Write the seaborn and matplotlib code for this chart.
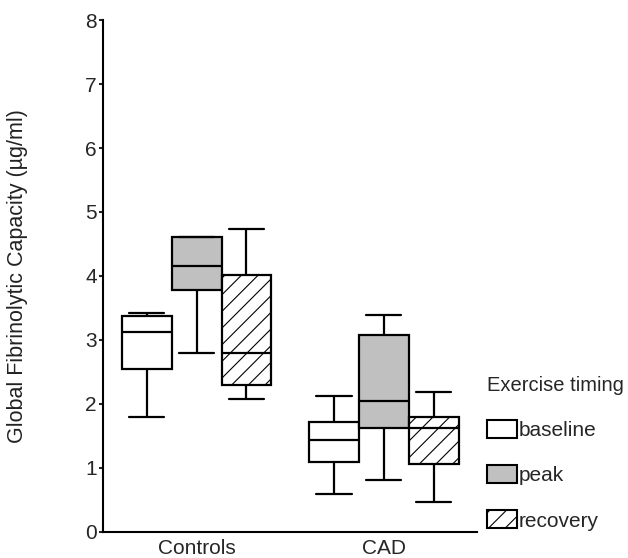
import numpy as np
import pandas as pd
import matplotlib
matplotlib.use("Agg")
import matplotlib.pyplot as plt
from matplotlib.patches import Patch
import seaborn as sns

groups = ["Controls", "CAD"]
timings = ["baseline", "peak", "recovery"]

# five numbers per box: min, q1, median, q3, max
controls_baseline = [1.80, 2.55, 3.13, 3.37, 3.42]
controls_peak = [2.79, 3.78, 4.16, 4.61, 4.61]
controls_recovery = [2.07, 2.29, 2.79, 4.02, 4.73]
cad_baseline = [0.59, 1.09, 1.44, 1.71, 2.13]
cad_peak = [0.81, 1.62, 2.04, 3.08, 3.39]
cad_recovery = [0.46, 1.06, 1.62, 1.80, 2.19]

series = {
    "Controls": [controls_baseline, controls_peak, controls_recovery],
    "CAD": [cad_baseline, cad_peak, cad_recovery],
}
rows = []
for group in groups:
    for timing, vals in zip(timings, series[group]):
        for v in vals:
            rows.append({"group": group, "timing": timing, "value": v})
df = pd.DataFrame(rows)

sns.set_style("ticks")
plt.rcParams["font.family"] = ["Liberation Sans", "DejaVu Sans"]
plt.rcParams["hatch.linewidth"] = 0.8

fig, ax = plt.subplots(figsize=(6.28, 5.58), dpi=100)
fig.subplots_adjust(left=0.164, right=0.760, top=0.964, bottom=0.047)

palette = {"baseline": "white", "peak": "#c0c0c0", "recovery": "white"}
sns.boxplot(data=df, x="group", y="value", hue="timing", order=groups,
            hue_order=timings, palette=palette, saturation=1, whis=(0, 100),
            width=0.8, gap=0, linecolor="black", linewidth=1.6,
            showfliers=False, legend=False, capwidths=0.19, ax=ax)

# hatch the recovery boxes (right-hand box of each group)
for p in ax.patches:
    ext = p.get_path().get_extents()
    cx = (ext.x0 + ext.x1) / 2
    if cx - round(cx) > 0.1:
        p.set_hatch("//")

ax.set_xlim(-0.5, 1.5)
ax.set_ylim(0, 8)
ax.set_yticks(range(9))
ax.set_xlabel("")
ax.set_ylabel("Global Fibrinolytic Capacity (µg/ml)", fontsize=15.5, color="#222222")
ax.yaxis.set_label_coords(-0.20, 0.5)
ax.tick_params(axis="x", length=0, labelsize=15, pad=5)
ax.tick_params(axis="y", length=3, width=1.5, pad=1.5, labelsize=15)
sns.despine(ax=ax)
for s in ["left", "bottom"]:
    ax.spines[s].set_linewidth(1.5)
    ax.spines[s].set_color("black")

handles = [
    Patch(facecolor="white", edgecolor="black", linewidth=1.5, label="baseline"),
    Patch(facecolor="#c0c0c0", edgecolor="black", linewidth=1.5, label="peak"),
    Patch(facecolor="white", edgecolor="black", linewidth=1.5, hatch="//", label="recovery"),
]
fig.legend(handles=handles, title="Exercise timing", loc="upper left",
           bbox_to_anchor=(0.775, 0.326), frameon=False, fontsize=15,
           title_fontsize=14.5, handlelength=1.45, handleheight=0.95,
           handletextpad=0.1, labelspacing=1.2, borderpad=0, borderaxespad=0,
           alignment="left")

fig.savefig("out.png", dpi=100)
